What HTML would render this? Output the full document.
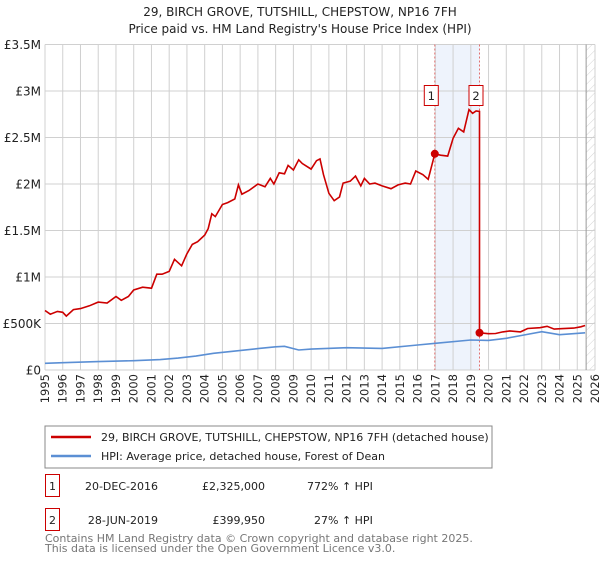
<!DOCTYPE html>
<html><head><meta charset="utf-8"><style>
body{margin:0;background:#fff;font-family:"Liberation Sans","DejaVu Sans",sans-serif;}
svg text{font-family:"DejaVu Sans","Liberation Sans",sans-serif;}
</style></head><body>
<svg id="c" width="600" height="560" xmlns="http://www.w3.org/2000/svg">
<defs><pattern id="hatch" width="6" height="6" patternUnits="userSpaceOnUse" patternTransform="rotate(45)"><line x1="0" y1="0" x2="0" y2="6" stroke="#d4d4d4" stroke-width="1"/></pattern></defs>
<text x="300" y="16" text-anchor="middle" font-size="12" fill="#222">29, BIRCH GROVE, TUTSHILL, CHEPSTOW, NP16 7FH</text>
<text x="300" y="33" text-anchor="middle" font-size="12" fill="#222">Price paid vs. HM Land Registry's House Price Index (HPI)</text>
<g id="plot"></g>
<rect x="45" y="426" width="447" height="42" fill="#fff" stroke="#888"/>
<line x1="51" y1="437" x2="91" y2="437" stroke="#cc0000" stroke-width="2.5"/>
<text x="101" y="441" font-size="11" fill="#222">29, BIRCH GROVE, TUTSHILL, CHEPSTOW, NP16 7FH (detached house)</text>
<line x1="51" y1="456" x2="91" y2="456" stroke="#5b8fd4" stroke-width="2.5"/>
<text x="101" y="460" font-size="11" fill="#222">HPI: Average price, detached house, Forest of Dean</text>
<g>
<rect x="45.5" y="474.5" width="14" height="22" fill="#fff" stroke="#cc0000"/>
<text x="52.5" y="490" text-anchor="middle" font-size="11" fill="#222">1</text>
<text x="158" y="490" text-anchor="end" font-size="11" fill="#222">20-DEC-2016</text>
<text x="265" y="490" text-anchor="end" font-size="11" fill="#222">£2,325,000</text>
<text x="307" y="490" font-size="11" fill="#222">772% ↑ HPI</text>
</g>
<g>
<rect x="45.5" y="508.5" width="14" height="22" fill="#fff" stroke="#cc0000"/>
<text x="52.5" y="524" text-anchor="middle" font-size="11" fill="#222">2</text>
<text x="158" y="524" text-anchor="end" font-size="11" fill="#222">28-JUN-2019</text>
<text x="265" y="524" text-anchor="end" font-size="11" fill="#222">£399,950</text>
<text x="314" y="524" font-size="11" fill="#222">27% ↑ HPI</text>
</g>
<text x="45" y="542" font-size="11" fill="#777">Contains HM Land Registry data © Crown copyright and database right 2025.</text>
<text x="45" y="552" font-size="11" fill="#777">This data is licensed under the Open Government Licence v3.0.</text>
</svg>
<script>
const yTicks=[0,500000,1000000,1500000,2000000,2500000,3000000,3500000];
const yTickLabels=["£0","£500K","£1M","£1.5M","£2M","£2.5M","£3M","£3.5M"];
const years=[1995,1996,1997,1998,1999,2000,2001,2002,2003,2004,2005,2006,2007,2008,2009,2010,2011,2012,2013,2014,2015,2016,2017,2018,2019,2020,2021,2022,2023,2024,2025,2026];
const redT=[1995.0,1995.3,1995.7,1996.0,1996.2,1996.6,1997.0,1997.5,1998.0,1998.5,1999.0,1999.3,1999.7,2000.0,2000.5,2001.0,2001.3,2001.6,2002.0,2002.3,2002.7,2003.0,2003.3,2003.6,2004.0,2004.2,2004.4,2004.6,2005.0,2005.3,2005.7,2005.9,2006.1,2006.5,2007.0,2007.4,2007.7,2007.9,2008.2,2008.5,2008.7,2009.0,2009.3,2009.5,2010.0,2010.3,2010.5,2010.7,2011.0,2011.3,2011.6,2011.8,2012.2,2012.5,2012.8,2013.0,2013.3,2013.6,2014.0,2014.5,2014.9,2015.3,2015.6,2015.9,2016.3,2016.6,2016.97,2017.3,2017.7,2018.0,2018.3,2018.6,2018.9,2019.1,2019.3,2019.49,2019.49,2020.0,2020.4,2020.8,2021.2,2021.8,2022.2,2022.9,2023.3,2023.7,2024.2,2024.8,2025.2,2025.44];
const redV=[640,600,630,620,580,650,660,690,730,720,790,750,790,860,890,880,1030,1030,1060,1190,1120,1250,1350,1380,1450,1520,1680,1650,1780,1800,1840,1990,1890,1930,2000,1970,2060,2000,2120,2110,2200,2150,2260,2220,2160,2250,2270,2100,1900,1820,1860,2010,2030,2085,1980,2060,2000,2010,1980,1950,1990,2010,2000,2140,2100,2050,2325,2310,2300,2491,2599,2560,2800,2760,2785,2780,400,390,392,410,420,410,446,455,470,440,445,450,465,478];
const blueT=[1995,1996,1998,2000,2001.5,2002.5,2003.5,2004.5,2005.5,2007,2008,2008.5,2009.3,2010,2012,2014,2016,2017,2019,2020,2021,2022,2023,2024,2025.44];
const blueV=[72,79,90,100,112,128,150,180,200,230,250,255,215,225,240,232,269,287,323,318,341,376,412,380,400];
const sales=[[2016.97,2325000,"1"],[2019.49,399950,"2"]];
const X0=45,X1=595,Y0=370,Y1=44.5;
const xs=t=>X0+(t-1995)/(2026-1995)*(X1-X0);
const ys=v=>Y0-v/3500000*(Y0-Y1);
const NS="http://www.w3.org/2000/svg";
const g=document.getElementById('plot');
function mk(tag,at,parent){const e=document.createElementNS(NS,tag);for(const k in at)e.setAttribute(k,at[k]);(parent||g).appendChild(e);return e;}
let e=mk('rect',{x:xs(2016.97),y:Y1,width:xs(2019.49)-xs(2016.97),height:Y0-Y1,fill:'#eef3fc'});


e=mk('rect',{x:xs(2025.5),y:Y1,width:X1-xs(2025.5),height:Y0-Y1,fill:'url(#hatch)'});


years.forEach(y=>{e=mk('line',{x1:xs(y),x2:xs(y),y1:Y1,y2:Y0,stroke:'#d0d0d0'});


const t=mk('text',{transform:`translate(${xs(y)+4},${Y0+4}) rotate(-90)`,'text-anchor':'end','font-size':'11.5',fill:'#222'});t.textContent=y;

});
yTicks.forEach((v,i)=>{e=mk('line',{x1:X0,x2:X1,y1:ys(v),y2:ys(v),stroke:'#d0d0d0'});


const t=mk('text',{x:X0-4,y:ys(v)+4.5,'text-anchor':'end','font-size':'12',fill:'#222'});t.textContent=yTickLabels[i];

});
e=mk('line',{x1:xs(2025.5),x2:xs(2025.5),y1:Y1,y2:Y0,stroke:'#999'});


sales.forEach(s=>{e=mk('line',{x1:xs(s[0]),x2:xs(s[0]),y1:Y1,y2:Y0,stroke:'#e07070','stroke-dasharray':'2,2'});

});
const bp=blueT.map((t,i)=>xs(t).toFixed(1)+','+ys(blueV[i]*1000).toFixed(1)).join(' ');
e=mk('polyline',{points:bp,fill:'none',stroke:'#5b8fd4','stroke-width':1.6});


const rp=redT.map((t,i)=>xs(t).toFixed(1)+','+ys(redV[i]*1000).toFixed(1)).join(' ');
e=mk('polyline',{points:rp,fill:'none',stroke:'#cc0000','stroke-width':1.6});


sales.forEach(s=>{e=mk('circle',{cx:xs(s[0]),cy:ys(s[1]),r:4,fill:'#cc0000'});


const bx=mk('rect',{x:xs(s[0])-10.5,y:85.5,width:14,height:20,fill:'#fff',stroke:'#cc0000'});


const t=mk('text',{x:xs(s[0])-3.5,y:100,'text-anchor':'middle','font-size':'11.5',fill:'#222'});t.textContent=s[2];

});
</script>
</body></html>
